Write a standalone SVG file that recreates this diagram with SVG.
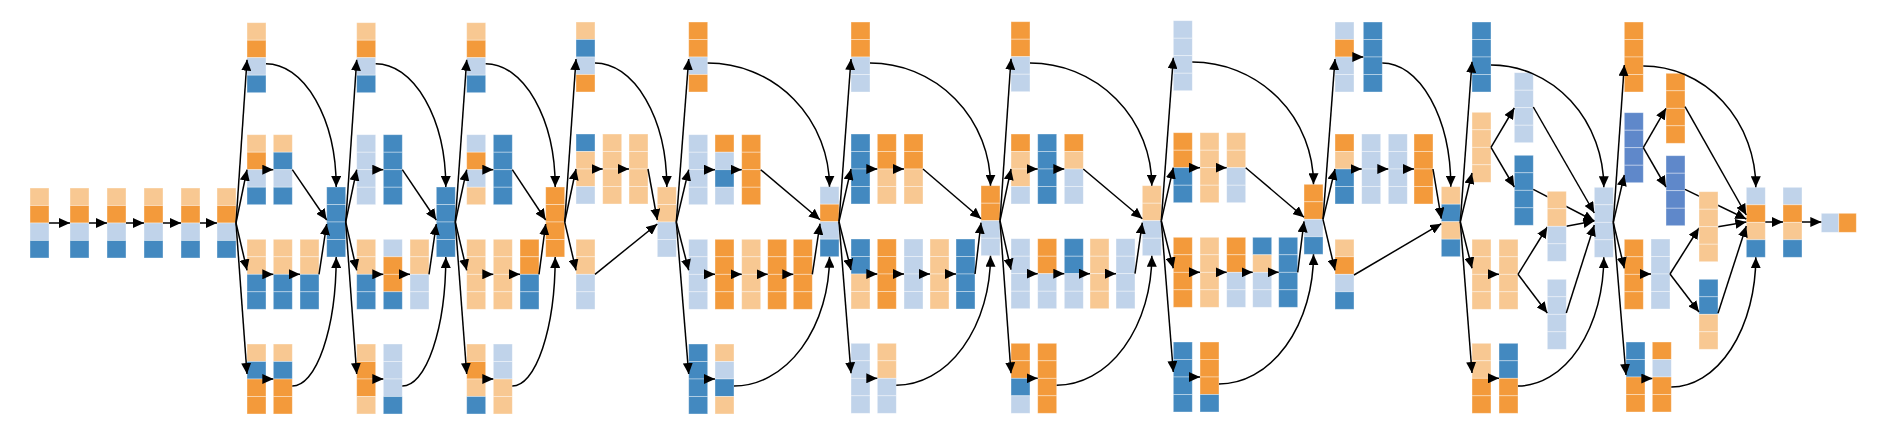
<svg xmlns="http://www.w3.org/2000/svg" width="1882" height="428" viewBox="0 0 1882 428">
<style>
.e{fill:none;stroke:#000;stroke-width:1.5;marker-end:url(#ah)}
</style>
<defs>
<marker id="ah" markerUnits="userSpaceOnUse" markerWidth="11" markerHeight="10" refX="11" refY="5" orient="auto" viewBox="0 0 11 10"><path d="M0,0L11,5L0,10z" fill="#000"/></marker>
<rect id="lo" width="19" height="17.5" fill="#f8c892" stroke="#fff" stroke-opacity="0.45" stroke-width="0.8"/>
<rect id="o" width="19" height="17.5" fill="#f39a3b" stroke="#fff" stroke-opacity="0.45" stroke-width="0.8"/>
<rect id="lb" width="19" height="17.5" fill="#c0d3ea" stroke="#fff" stroke-opacity="0.45" stroke-width="0.8"/>
<rect id="b" width="19" height="17.5" fill="#4389c0" stroke="#fff" stroke-opacity="0.45" stroke-width="0.8"/>
<rect id="mb" width="19" height="17.5" fill="#5f88ca" stroke="#fff" stroke-opacity="0.45" stroke-width="0.8"/>
<rect id="hlb" width="17.5" height="19" fill="#c0d3ea" stroke="#fff" stroke-opacity="0.45" stroke-width="0.8"/>
<rect id="ho" width="17.5" height="19" fill="#f39a3b" stroke="#fff" stroke-opacity="0.45" stroke-width="0.8"/>
</defs>
<rect width="1882" height="428" fill="#fff"/>
<g id="nodes">
<g id="s1" transform="translate(30,188)"><use href="#lo"/><use href="#o" y="17.5"/><use href="#lb" y="35"/><use href="#b" y="52.5"/></g>
<g id="s2" transform="translate(70,188)"><use href="#lo"/><use href="#o" y="17.5"/><use href="#lb" y="35"/><use href="#b" y="52.5"/></g>
<g id="s3" transform="translate(107,188)"><use href="#lo"/><use href="#o" y="17.5"/><use href="#lb" y="35"/><use href="#b" y="52.5"/></g>
<g id="s4" transform="translate(144,188)"><use href="#lo"/><use href="#o" y="17.5"/><use href="#lb" y="35"/><use href="#b" y="52.5"/></g>
<g id="s5" transform="translate(181,188)"><use href="#lo"/><use href="#o" y="17.5"/><use href="#lb" y="35"/><use href="#b" y="52.5"/></g>
<g id="s6" transform="translate(217,188)"><use href="#lo"/><use href="#o" y="17.5"/><use href="#lb" y="35"/><use href="#b" y="52.5"/></g>

<g id="m1a1" transform="translate(247,22.7)"><use href="#lo"/><use href="#o" y="17.5"/><use href="#lb" y="35"/><use href="#b" y="52.5"/></g>
<g id="m1b1" transform="translate(247,134.7)"><use href="#lo"/><use href="#o" y="17.5"/><use href="#lb" y="35"/><use href="#b" y="52.5"/></g>
<g id="m1b2" transform="translate(273.3,134.7)"><use href="#lo"/><use href="#b" y="17.5"/><use href="#lb" y="35"/><use href="#b" y="52.5"/></g>
<g id="m1c1" transform="translate(247,239.3)"><use href="#lo"/><use href="#lo" y="17.5"/><use href="#b" y="35"/><use href="#b" y="52.5"/></g>
<g id="m1c2" transform="translate(273.3,239.3)"><use href="#lo"/><use href="#lo" y="17.5"/><use href="#b" y="35"/><use href="#b" y="52.5"/></g>
<g id="m1c3" transform="translate(300,239.3)"><use href="#lo"/><use href="#lo" y="17.5"/><use href="#b" y="35"/><use href="#b" y="52.5"/></g>
<g id="m1d1" transform="translate(247,344)"><use href="#lo"/><use href="#b" y="17.5"/><use href="#o" y="35"/><use href="#o" y="52.5"/></g>
<g id="m1d2" transform="translate(273.3,344)"><use href="#lo"/><use href="#b" y="17.5"/><use href="#o" y="35"/><use href="#o" y="52.5"/></g>
<g id="cc1" transform="translate(326.7,187)"><use href="#b"/><use href="#b" y="17.5"/><use href="#b" y="35"/><use href="#b" y="52.5"/></g>

<g id="m2a1" transform="translate(356.7,22.7)"><use href="#lo"/><use href="#o" y="17.5"/><use href="#lb" y="35"/><use href="#b" y="52.5"/></g>
<g id="m2b1" transform="translate(356.7,134.7)"><use href="#lb"/><use href="#lb" y="17.5"/><use href="#lb" y="35"/><use href="#lb" y="52.5"/></g>
<g id="m2b2" transform="translate(383.3,134.7)"><use href="#b"/><use href="#b" y="17.5"/><use href="#b" y="35"/><use href="#b" y="52.5"/></g>
<g id="m2c1" transform="translate(356.7,239.3)"><use href="#lo"/><use href="#lo" y="17.5"/><use href="#b" y="35"/><use href="#b" y="52.5"/></g>
<g id="m2c2" transform="translate(383.3,239.3)"><use href="#lb"/><use href="#o" y="17.5"/><use href="#o" y="35"/><use href="#b" y="52.5"/></g>
<g id="m2c3" transform="translate(410,239.3)"><use href="#lo"/><use href="#lo" y="17.5"/><use href="#lb" y="35"/><use href="#lb" y="52.5"/></g>
<g id="m2d1" transform="translate(356.7,344)"><use href="#lo"/><use href="#o" y="17.5"/><use href="#o" y="35"/><use href="#lo" y="52.5"/></g>
<g id="m2d2" transform="translate(383.3,344)"><use href="#lb"/><use href="#lb" y="17.5"/><use href="#lb" y="35"/><use href="#b" y="52.5"/></g>
<g id="cc2" transform="translate(436.3,187)"><use href="#b"/><use href="#b" y="17.5"/><use href="#b" y="35"/><use href="#b" y="52.5"/></g>

<g id="m3a1" transform="translate(466.7,22.7)"><use href="#lo"/><use href="#o" y="17.5"/><use href="#lb" y="35"/><use href="#b" y="52.5"/></g>
<g id="m3b1" transform="translate(466.7,134.7)"><use href="#lb"/><use href="#o" y="17.5"/><use href="#lb" y="35"/><use href="#lo" y="52.5"/></g>
<g id="m3b2" transform="translate(493.3,134.7)"><use href="#b"/><use href="#b" y="17.5"/><use href="#b" y="35"/><use href="#b" y="52.5"/></g>
<g id="m3c1" transform="translate(466.7,239.3)"><use href="#lo"/><use href="#lo" y="17.5"/><use href="#lo" y="35"/><use href="#lo" y="52.5"/></g>
<g id="m3c2" transform="translate(493.3,239.3)"><use href="#lo"/><use href="#lo" y="17.5"/><use href="#lo" y="35"/><use href="#lo" y="52.5"/></g>
<g id="m3c3" transform="translate(520,239.3)"><use href="#o"/><use href="#o" y="17.5"/><use href="#b" y="35"/><use href="#b" y="52.5"/></g>
<g id="m3d1" transform="translate(466.7,344)"><use href="#lo"/><use href="#o" y="17.5"/><use href="#lo" y="35"/><use href="#b" y="52.5"/></g>
<g id="m3d2" transform="translate(493.3,344)"><use href="#lb"/><use href="#lb" y="17.5"/><use href="#lo" y="35"/><use href="#lo" y="52.5"/></g>
<g id="cc3" transform="translate(545.7,187)"><use href="#o"/><use href="#o" y="17.5"/><use href="#o" y="35"/><use href="#o" y="52.5"/></g>

<g id="m4a1" transform="translate(576,22)"><use href="#lo"/><use href="#b" y="17.5"/><use href="#lb" y="35"/><use href="#o" y="52.5"/></g>
<g id="m4b1" transform="translate(576,134)"><use href="#b"/><use href="#lo" y="17.5"/><use href="#lo" y="35"/><use href="#lb" y="52.5"/></g>
<g id="m4b2" transform="translate(602.7,134)"><use href="#lo"/><use href="#lo" y="17.5"/><use href="#lo" y="35"/><use href="#lo" y="52.5"/></g>
<g id="m4b3" transform="translate(629,134)"><use href="#lo"/><use href="#lo" y="17.5"/><use href="#lo" y="35"/><use href="#lo" y="52.5"/></g>
<g id="m4c1" transform="translate(576,239.3)"><use href="#lo"/><use href="#lo" y="17.5"/><use href="#lb" y="35"/><use href="#lb" y="52.5"/></g>
<g id="cc4" transform="translate(657.3,187)"><use href="#lo"/><use href="#lo" y="17.5"/><use href="#lb" y="35"/><use href="#lb" y="52.5"/></g>

<g id="m5a1" transform="translate(688.7,22)"><use href="#o"/><use href="#o" y="17.5"/><use href="#lb" y="35"/><use href="#o" y="52.5"/></g>
<g id="m5b1" transform="translate(688.7,134.7)"><use href="#lb"/><use href="#lb" y="17.5"/><use href="#lb" y="35"/><use href="#lb" y="52.5"/></g>
<g id="m5b2" transform="translate(715,134.7)"><use href="#o"/><use href="#lb" y="17.5"/><use href="#b" y="35"/><use href="#lb" y="52.5"/></g>
<g id="m5b3" transform="translate(741.7,134.7)"><use href="#o"/><use href="#o" y="17.5"/><use href="#o" y="35"/><use href="#o" y="52.5"/></g>
<g id="m5c1" transform="translate(688.7,239.3)"><use href="#lb"/><use href="#lb" y="17.5"/><use href="#lb" y="35"/><use href="#lb" y="52.5"/></g>
<g id="m5c2" transform="translate(715,239.3)"><use href="#o"/><use href="#o" y="17.5"/><use href="#o" y="35"/><use href="#o" y="52.5"/></g>
<g id="m5c3" transform="translate(741.7,239.3)"><use href="#lo"/><use href="#lo" y="17.5"/><use href="#lo" y="35"/><use href="#lo" y="52.5"/></g>
<g id="m5c4" transform="translate(767.7,239.3)"><use href="#o"/><use href="#o" y="17.5"/><use href="#o" y="35"/><use href="#o" y="52.5"/></g>
<g id="m5c5" transform="translate(793.3,239.3)"><use href="#o"/><use href="#o" y="17.5"/><use href="#o" y="35"/><use href="#o" y="52.5"/></g>
<g id="m5d1" transform="translate(688.7,344)"><use href="#b"/><use href="#b" y="17.5"/><use href="#b" y="35"/><use href="#b" y="52.5"/></g>
<g id="m5d2" transform="translate(715,344)"><use href="#lo"/><use href="#lb" y="17.5"/><use href="#b" y="35"/><use href="#lo" y="52.5"/></g>
<g id="cc5" transform="translate(820,186.7)"><use href="#lb"/><use href="#o" y="17.5"/><use href="#lb" y="35"/><use href="#b" y="52.5"/></g>

<g id="m6a1" transform="translate(851,22)"><use href="#o"/><use href="#o" y="17.5"/><use href="#lb" y="35"/><use href="#lb" y="52.5"/></g>
<g id="m6b1" transform="translate(851,134)"><use href="#b"/><use href="#b" y="17.5"/><use href="#b" y="35"/><use href="#b" y="52.5"/></g>
<g id="m6b2" transform="translate(877.3,134)"><use href="#o"/><use href="#o" y="17.5"/><use href="#lo" y="35"/><use href="#lo" y="52.5"/></g>
<g id="m6b3" transform="translate(904,134)"><use href="#o"/><use href="#o" y="17.5"/><use href="#lo" y="35"/><use href="#lo" y="52.5"/></g>
<g id="m6c1" transform="translate(851,239)"><use href="#b"/><use href="#b" y="17.5"/><use href="#lo" y="35"/><use href="#lo" y="52.5"/></g>
<g id="m6c2" transform="translate(877.3,239)"><use href="#o"/><use href="#o" y="17.5"/><use href="#o" y="35"/><use href="#o" y="52.5"/></g>
<g id="m6c3" transform="translate(904,239)"><use href="#lb"/><use href="#lb" y="17.5"/><use href="#lb" y="35"/><use href="#lb" y="52.5"/></g>
<g id="m6c4" transform="translate(930,239)"><use href="#lo"/><use href="#lo" y="17.5"/><use href="#lo" y="35"/><use href="#lo" y="52.5"/></g>
<g id="m6c5" transform="translate(956,239)"><use href="#b"/><use href="#b" y="17.5"/><use href="#b" y="35"/><use href="#b" y="52.5"/></g>
<g id="m6d1" transform="translate(851,343.3)"><use href="#lb"/><use href="#lb" y="17.5"/><use href="#lb" y="35"/><use href="#lb" y="52.5"/></g>
<g id="m6d2" transform="translate(877.3,343.3)"><use href="#lo"/><use href="#lo" y="17.5"/><use href="#lb" y="35"/><use href="#lb" y="52.5"/></g>
<g id="cc6" transform="translate(981,185.7)"><use href="#o"/><use href="#o" y="17.5"/><use href="#lb" y="35"/><use href="#lb" y="52.5"/></g>

<g id="m7a1" transform="translate(1011,21.7)"><use href="#o"/><use href="#o" y="17.5"/><use href="#lb" y="35"/><use href="#lb" y="52.5"/></g>
<g id="m7b1" transform="translate(1011,134)"><use href="#o"/><use href="#lo" y="17.5"/><use href="#lo" y="35"/><use href="#lb" y="52.5"/></g>
<g id="m7b2" transform="translate(1037.7,134)"><use href="#b"/><use href="#b" y="17.5"/><use href="#b" y="35"/><use href="#b" y="52.5"/></g>
<g id="m7b3" transform="translate(1064.3,134)"><use href="#o"/><use href="#lo" y="17.5"/><use href="#lb" y="35"/><use href="#lb" y="52.5"/></g>
<g id="m7c1" transform="translate(1011,238.7)"><use href="#lb"/><use href="#lb" y="17.5"/><use href="#lb" y="35"/><use href="#lb" y="52.5"/></g>
<g id="m7c2" transform="translate(1037.7,238.7)"><use href="#o"/><use href="#o" y="17.5"/><use href="#lb" y="35"/><use href="#lb" y="52.5"/></g>
<g id="m7c3" transform="translate(1064.3,238.7)"><use href="#b"/><use href="#b" y="17.5"/><use href="#lb" y="35"/><use href="#lb" y="52.5"/></g>
<g id="m7c4" transform="translate(1090,238.7)"><use href="#lo"/><use href="#lo" y="17.5"/><use href="#lo" y="35"/><use href="#lo" y="52.5"/></g>
<g id="m7c5" transform="translate(1116,238.7)"><use href="#lb"/><use href="#lb" y="17.5"/><use href="#lb" y="35"/><use href="#lb" y="52.5"/></g>
<g id="m7d1" transform="translate(1011,343.3)"><use href="#o"/><use href="#o" y="17.5"/><use href="#b" y="35"/><use href="#lb" y="52.5"/></g>
<g id="m7d2" transform="translate(1037.7,343.3)"><use href="#o"/><use href="#o" y="17.5"/><use href="#o" y="35"/><use href="#o" y="52.5"/></g>
<g id="cc7" transform="translate(1142.3,185.7)"><use href="#lo"/><use href="#lo" y="17.5"/><use href="#lb" y="35"/><use href="#lb" y="52.5"/></g>

<g id="m8a1" transform="translate(1173.3,20.7)"><use href="#lb"/><use href="#lb" y="17.5"/><use href="#lb" y="35"/><use href="#lb" y="52.5"/></g>
<g id="m8b1" transform="translate(1173.3,132.7)"><use href="#o"/><use href="#o" y="17.5"/><use href="#b" y="35"/><use href="#b" y="52.5"/></g>
<g id="m8b2" transform="translate(1200,132.7)"><use href="#lo"/><use href="#lo" y="17.5"/><use href="#lo" y="35"/><use href="#lo" y="52.5"/></g>
<g id="m8b3" transform="translate(1226.7,132.7)"><use href="#lo"/><use href="#lo" y="17.5"/><use href="#lb" y="35"/><use href="#lb" y="52.5"/></g>
<g id="m8c1" transform="translate(1173.3,237.3)"><use href="#o"/><use href="#o" y="17.5"/><use href="#o" y="35"/><use href="#o" y="52.5"/></g>
<g id="m8c2" transform="translate(1200,237.3)"><use href="#lo"/><use href="#lo" y="17.5"/><use href="#lo" y="35"/><use href="#lo" y="52.5"/></g>
<g id="m8c3" transform="translate(1226.7,237.3)"><use href="#o"/><use href="#o" y="17.5"/><use href="#lb" y="35"/><use href="#lb" y="52.5"/></g>
<g id="m8c4" transform="translate(1252.7,237.3)"><use href="#b"/><use href="#lo" y="17.5"/><use href="#lb" y="35"/><use href="#lb" y="52.5"/></g>
<g id="m8c5" transform="translate(1278.7,237.3)"><use href="#b"/><use href="#b" y="17.5"/><use href="#b" y="35"/><use href="#b" y="52.5"/></g>
<g id="m8d1" transform="translate(1173.3,342)"><use href="#b"/><use href="#b" y="17.5"/><use href="#b" y="35"/><use href="#b" y="52.5"/></g>
<g id="m8d2" transform="translate(1200,342)"><use href="#o"/><use href="#o" y="17.5"/><use href="#o" y="35"/><use href="#b" y="52.5"/></g>
<g id="cc8" transform="translate(1304,184.3)"><use href="#o"/><use href="#o" y="17.5"/><use href="#lb" y="35"/><use href="#b" y="52.5"/></g>

<g id="m9a1" transform="translate(1335,22)"><use href="#lb"/><use href="#o" y="17.5"/><use href="#lb" y="35"/><use href="#lb" y="52.5"/></g>
<g id="m9a2" transform="translate(1363.3,22)"><use href="#b"/><use href="#b" y="17.5"/><use href="#b" y="35"/><use href="#b" y="52.5"/></g>
<g id="m9b1" transform="translate(1335,134)"><use href="#o"/><use href="#lo" y="17.5"/><use href="#b" y="35"/><use href="#b" y="52.5"/></g>
<g id="m9b2" transform="translate(1361.7,134)"><use href="#lb"/><use href="#lb" y="17.5"/><use href="#lb" y="35"/><use href="#lb" y="52.5"/></g>
<g id="m9b3" transform="translate(1388.3,134)"><use href="#lb"/><use href="#lb" y="17.5"/><use href="#lb" y="35"/><use href="#lb" y="52.5"/></g>
<g id="m9b4" transform="translate(1414,134)"><use href="#o"/><use href="#o" y="17.5"/><use href="#o" y="35"/><use href="#o" y="52.5"/></g>
<g id="m9c1" transform="translate(1335,239.3)"><use href="#lo"/><use href="#o" y="17.5"/><use href="#lb" y="35"/><use href="#b" y="52.5"/></g>
<g id="cc9" transform="translate(1441.3,186.7)"><use href="#lo"/><use href="#b" y="17.5"/><use href="#lo" y="35"/><use href="#b" y="52.5"/></g>

<g id="m10a1" transform="translate(1472,22)"><use href="#b"/><use href="#b" y="17.5"/><use href="#b" y="35"/><use href="#b" y="52.5"/></g>
<g id="m10b1" transform="translate(1472,112.3)"><use href="#lo"/><use href="#lo" y="17.5"/><use href="#lo" y="35"/><use href="#lo" y="52.5"/></g>
<g id="m10b2a" transform="translate(1514.3,72.7)"><use href="#lb"/><use href="#lb" y="17.5"/><use href="#lb" y="35"/><use href="#lb" y="52.5"/></g>
<g id="m10b2b" transform="translate(1514.3,155.3)"><use href="#b"/><use href="#b" y="17.5"/><use href="#b" y="35"/><use href="#b" y="52.5"/></g>
<g id="m10c1" transform="translate(1472,239.3)"><use href="#lo"/><use href="#lo" y="17.5"/><use href="#lo" y="35"/><use href="#lo" y="52.5"/></g>
<g id="m10c2" transform="translate(1499,239.3)"><use href="#lo"/><use href="#lo" y="17.5"/><use href="#lo" y="35"/><use href="#lo" y="52.5"/></g>
<g id="m10c3b" transform="translate(1547.3,279.3)"><use href="#lb"/><use href="#lb" y="17.5"/><use href="#lb" y="35"/><use href="#lb" y="52.5"/></g>
<g id="m10d1" transform="translate(1472,343.3)"><use href="#lo"/><use href="#lo" y="17.5"/><use href="#o" y="35"/><use href="#o" y="52.5"/></g>
<g id="m10d2" transform="translate(1499,343.3)"><use href="#b"/><use href="#b" y="17.5"/><use href="#o" y="35"/><use href="#o" y="52.5"/></g>
<g id="cc10" transform="translate(1594.3,187.3)"><use href="#lb"/><use href="#lb" y="17.5"/><use href="#lb" y="35"/><use href="#lb" y="52.5"/></g>

<g id="m11a1" transform="translate(1624.3,22)"><use href="#o"/><use href="#o" y="17.5"/><use href="#o" y="35"/><use href="#o" y="52.5"/></g>
<g id="m11b1" transform="translate(1624.3,112.7)"><use href="#mb"/><use href="#mb" y="17.5"/><use href="#mb" y="35"/><use href="#mb" y="52.5"/></g>
<g id="m11b2a" transform="translate(1666,73.3)"><use href="#o"/><use href="#o" y="17.5"/><use href="#o" y="35"/><use href="#o" y="52.5"/></g>
<g id="m11b2b" transform="translate(1666,155.7)"><use href="#mb"/><use href="#mb" y="17.5"/><use href="#mb" y="35"/><use href="#mb" y="52.5"/></g>
<g id="m11c1" transform="translate(1624.3,239.3)"><use href="#o"/><use href="#o" y="17.5"/><use href="#o" y="35"/><use href="#o" y="52.5"/></g>
<g id="m11c2" transform="translate(1651,239)"><use href="#lb"/><use href="#lb" y="17.5"/><use href="#lb" y="35"/><use href="#lb" y="52.5"/></g>
<g id="m11c3b" transform="translate(1699,279.3)"><use href="#b"/><use href="#b" y="17.5"/><use href="#lo" y="35"/><use href="#lo" y="52.5"/></g>
<g id="m11d1" transform="translate(1626,342)"><use href="#b"/><use href="#b" y="17.5"/><use href="#o" y="35"/><use href="#o" y="52.5"/></g>
<g id="m11d2" transform="translate(1652.3,342)"><use href="#o"/><use href="#lb" y="17.5"/><use href="#o" y="35"/><use href="#o" y="52.5"/></g>
<g id="cc11" transform="translate(1746.3,187.3)"><use href="#lb"/><use href="#o" y="17.5"/><use href="#lo" y="35"/><use href="#b" y="52.5"/></g>
<g id="f1" transform="translate(1783,187.3)"><use href="#lb"/><use href="#o" y="17.5"/><use href="#lo" y="35"/><use href="#b" y="52.5"/></g>
<g id="f2" transform="translate(1821.3,213.3)"><use href="#hlb"/><use href="#ho" x="17.5"/></g>
</g>

<g id="connectors">
<path class="e" d="M49,223L70,223"/>
<path class="e" d="M89,223L107,223"/>
<path class="e" d="M126,223L144,223"/>
<path class="e" d="M163,223L181,223"/>
<path class="e" d="M200,223L217,223"/>

<path class="e" d="M236,223L247,59.7"/>
<path class="e" d="M236,223L247,169.7"/>
<path class="e" d="M236,223L247,270.3"/>
<path class="e" d="M236,223L247,374"/>
<path class="e" d="M266,169.7L273.3,169.7"/>
<path class="e" d="M266,274.3L273.3,274.3"/>
<path class="e" d="M292.3,274.3L300,274.3"/>
<path class="e" d="M266,379L273.3,379"/>
<path class="e" d="M266,63.7A70.2,123.3 0 0 1 336.2,187"/>
<path class="e" d="M292.3,169.7L326.7,220"/>
<path class="e" d="M319,274.3L326.7,224"/>
<path class="e" d="M292.3,386A43.9,129 0 0 0 336.2,257"/>

<path class="e" d="M345.7,222L356.7,59.7"/>
<path class="e" d="M345.7,222L356.7,169.7"/>
<path class="e" d="M345.7,222L356.7,270.3"/>
<path class="e" d="M345.7,222L356.7,374"/>
<path class="e" d="M375.7,169.7L383.3,169.7"/>
<path class="e" d="M375.7,274.3L383.3,274.3"/>
<path class="e" d="M402.3,274.3L410,274.3"/>
<path class="e" d="M375.7,379L383.3,379"/>
<path class="e" d="M375.7,63.7A70.1,123.3 0 0 1 445.8,187"/>
<path class="e" d="M402.3,169.7L436.3,220"/>
<path class="e" d="M429,274.3L436.3,224"/>
<path class="e" d="M402.3,386A43.5,129 0 0 0 445.8,257"/>

<path class="e" d="M455.3,222L466.7,59.7"/>
<path class="e" d="M455.3,222L466.7,169.7"/>
<path class="e" d="M455.3,222L466.7,270.3"/>
<path class="e" d="M455.3,222L466.7,374"/>
<path class="e" d="M485.7,169.7L493.3,169.7"/>
<path class="e" d="M485.7,274.3L493.3,274.3"/>
<path class="e" d="M512.3,274.3L520,274.3"/>
<path class="e" d="M485.7,379L493.3,379"/>
<path class="e" d="M485.7,63.7A69.5,123.3 0 0 1 555.2,187"/>
<path class="e" d="M512.3,169.7L545.7,220"/>
<path class="e" d="M539,274.3L545.7,224"/>
<path class="e" d="M512.3,386A42.9,129 0 0 0 555.2,257"/>

<path class="e" d="M564.7,222L576,59"/>
<path class="e" d="M564.7,222L576,169"/>
<path class="e" d="M564.7,222L576,270.3"/>
<path class="e" d="M595,169L602.7,169"/>
<path class="e" d="M621.7,169L629,169"/>
<path class="e" d="M595,63A71.8,124 0 0 1 666.8,187"/>
<path class="e" d="M648,169L657.3,220"/>
<path class="e" d="M595,274.3L657.3,224"/>

<path class="e" d="M676.3,222L688.7,59"/>
<path class="e" d="M676.3,222L688.7,169.7"/>
<path class="e" d="M676.3,222L688.7,270.3"/>
<path class="e" d="M676.3,222L688.7,374"/>
<path class="e" d="M707.7,169.7L715,169.7"/>
<path class="e" d="M734,169.7L741.7,169.7"/>
<path class="e" d="M707.7,274.3L715,274.3"/>
<path class="e" d="M734,274.3L741.7,274.3"/>
<path class="e" d="M760.7,274.3L767.7,274.3"/>
<path class="e" d="M786.7,274.3L793.3,274.3"/>
<path class="e" d="M707.7,379L715,379"/>
<path class="e" d="M707.7,63A121.8,123.7 0 0 1 829.5,186.7"/>
<path class="e" d="M760.7,169.7L820,219.7"/>
<path class="e" d="M812.3,274.3L820,223.7"/>
<path class="e" d="M734,386A95.5,129.3 0 0 0 829.5,256.7"/>

<path class="e" d="M839,221.7L851,59"/>
<path class="e" d="M839,221.7L851,169"/>
<path class="e" d="M839,221.7L851,270"/>
<path class="e" d="M839,221.7L851,373.3"/>
<path class="e" d="M870,169L877.3,169"/>
<path class="e" d="M896.3,169L904,169"/>
<path class="e" d="M870,274L877.3,274"/>
<path class="e" d="M896.3,274L904,274"/>
<path class="e" d="M923,274L930,274"/>
<path class="e" d="M949,274L956,274"/>
<path class="e" d="M870,378.3L877.3,378.3"/>
<path class="e" d="M870,63A120.5,122.7 0 0 1 990.5,185.7"/>
<path class="e" d="M923,169L981,218.7"/>
<path class="e" d="M975,274L981,222.7"/>
<path class="e" d="M896.3,385.3A94.2,129.6 0 0 0 990.5,255.7"/>

<path class="e" d="M1000,220.7L1011,58.7"/>
<path class="e" d="M1000,220.7L1011,169"/>
<path class="e" d="M1000,220.7L1011,269.7"/>
<path class="e" d="M1000,220.7L1011,373.3"/>
<path class="e" d="M1030,169L1037.7,169"/>
<path class="e" d="M1056.7,169L1064.3,169"/>
<path class="e" d="M1030,273.7L1037.7,273.7"/>
<path class="e" d="M1056.7,273.7L1064.3,273.7"/>
<path class="e" d="M1083.3,273.7L1090,273.7"/>
<path class="e" d="M1109,273.7L1116,273.7"/>
<path class="e" d="M1030,378.3L1037.7,378.3"/>
<path class="e" d="M1030,63A121.8,122.7 0 0 1 1151.8,185.7"/>
<path class="e" d="M1083.3,169L1142.3,218.7"/>
<path class="e" d="M1135,273.7L1142.3,222.7"/>
<path class="e" d="M1056.7,385.3A95.1,129.6 0 0 0 1151.8,255.7"/>

<path class="e" d="M1161.3,220.7L1173.3,57.7"/>
<path class="e" d="M1161.3,220.7L1173.3,167.7"/>
<path class="e" d="M1161.3,220.7L1173.3,268.3"/>
<path class="e" d="M1161.3,220.7L1173.3,372"/>
<path class="e" d="M1192.3,167.7L1200,167.7"/>
<path class="e" d="M1219,167.7L1226.7,167.7"/>
<path class="e" d="M1192.3,272.3L1200,272.3"/>
<path class="e" d="M1219,272.3L1226.7,272.3"/>
<path class="e" d="M1245.7,272.3L1252.7,272.3"/>
<path class="e" d="M1271.7,272.3L1278.7,272.3"/>
<path class="e" d="M1192.3,377L1200,377"/>
<path class="e" d="M1192.3,62A121.2,122.3 0 0 1 1313.5,184.3"/>
<path class="e" d="M1245.7,167.7L1304,217.3"/>
<path class="e" d="M1297.7,272.3L1304,221.3"/>
<path class="e" d="M1219,384A94.5,129.7 0 0 0 1313.5,254.3"/>

<path class="e" d="M1323,219.3L1335,59"/>
<path class="e" d="M1323,219.3L1335,169"/>
<path class="e" d="M1323,219.3L1335,270.3"/>
<path class="e" d="M1354,57L1363.3,57"/>
<path class="e" d="M1354,169L1361.7,169"/>
<path class="e" d="M1380.7,169L1388.3,169"/>
<path class="e" d="M1407.3,169L1414,169"/>
<path class="e" d="M1382.3,63A68.5,123.7 0 0 1 1450.8,186.7"/>
<path class="e" d="M1433,169L1441.3,218.7"/>
<path class="e" d="M1354,275L1441.3,223.7"/>

<path class="e" d="M1460.3,221.7L1472,61.7"/>
<path class="e" d="M1460.3,221.7L1472,173"/>
<path class="e" d="M1460.3,221.7L1472,268.3"/>
<path class="e" d="M1460.3,221.7L1472,373"/>
<path class="e" d="M1491,147.3L1514.3,108"/>
<path class="e" d="M1491,147.3L1514.3,187"/>
<path class="e" d="M1491,274.3L1499,274.3"/>
<path class="e" d="M1518,274.3L1547.3,227"/>
<path class="e" d="M1518,274.3L1547.3,313"/>
<path class="e" d="M1491,378.3L1499,378.3"/>
<path class="e" d="M1491,65A112.8,122.3 0 0 1 1603.8,187.3"/>
<path class="e" d="M1533.3,107L1594.3,213"/>
<path class="e" d="M1533.3,189.3L1594.3,221"/>
<path class="e" d="M1566.3,226.3L1594.3,221"/>
<path class="e" d="M1566.3,313L1594.3,225"/>
<path class="e" d="M1518,386A85.8,128.7 0 0 0 1603.8,257.3"/>

<path class="e" d="M1613.3,222.3L1624.3,65"/>
<path class="e" d="M1613.3,222.3L1624.3,175"/>
<path class="e" d="M1613.3,222.3L1624.3,268.3"/>
<path class="e" d="M1613.3,222.3L1626,375"/>
<path class="e" d="M1643.3,147.7L1666,108.3"/>
<path class="e" d="M1643.3,147.7L1666,187"/>
<path class="e" d="M1643.3,274L1651,274"/>
<path class="e" d="M1670,274L1699,228"/>
<path class="e" d="M1670,274L1699,312"/>
<path class="e" d="M1645,378.5L1652.3,378.5"/>
<path class="e" d="M1643.3,66A112.5,121.3 0 0 1 1755.8,187.3"/>
<path class="e" d="M1685,106.7L1746.3,215"/>
<path class="e" d="M1685,189.3L1746.3,219"/>
<path class="e" d="M1718,226.7L1746.3,222"/>
<path class="e" d="M1718,313.3L1746.3,226"/>
<path class="e" d="M1671.3,387A84.5,129.7 0 0 0 1755.8,257.3"/>
<path class="e" d="M1765.3,222L1783,222"/>
<path class="e" d="M1802,222L1821.3,222"/>
</g>

<g id="m10c3a" transform="translate(1547.3,191.3)"><use href="#lo"/><use href="#lo" y="17.5"/><use href="#lb" y="35"/><use href="#lb" y="52.5"/></g>
<g id="m11c3a" transform="translate(1699,191.7)"><use href="#lo"/><use href="#lo" y="17.5"/><use href="#lo" y="35"/><use href="#lo" y="52.5"/></g>
</svg>
